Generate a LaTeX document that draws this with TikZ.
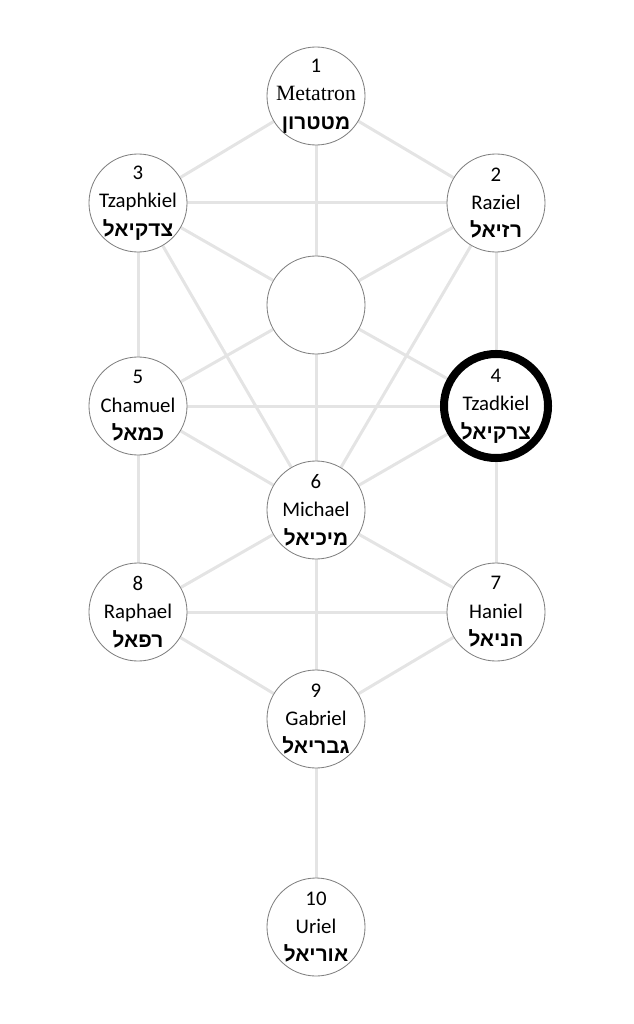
\documentclass[tikz,border=0pt]{standalone}
\usepackage{fontspec}
\setmainfont{Carlito}
\newfontfamily\metafont{Liberation Serif}
\newfontfamily\hebfont[Script=Hebrew]{Liberation Sans}
\TeXXeTstate=1
\usetikzlibrary{backgrounds}
\definecolor{pathgray}{HTML}{E4E4E4}
\definecolor{ringgray}{HTML}{808080}
\newcommand{\heb}[1]{{\hebfont\bfseries\beginR #1\endR}}

\begin{document}
\begin{tikzpicture}[x=0.025cm, y=-0.025cm,
				angel/.style={draw=ringgray, line width=0.6pt, circle, fill=white, inner sep=-0.4cm, minimum size=2.45cm,
				font=\fontsize{14.8}{20.2}\selectfont},
				chosen/.style={angel, draw=black, line width=0.2cm, minimum size=2.6cm},
				every text node part/.style={align=center},
				pathway/.style={draw=pathgray, line width=0.075cm}]
				\useasboundingbox (0,0) rectangle (633,1024);
				
				\node[angel](n1) at (316, 96) {1\\{\metafont\fontsize{15.5}{20.2}\selectfont Metatron}\\\heb{מטטרון}};
				\node[angel](n3) at (138, 203) {3\\Tzaphkiel\\\heb{צדקיאל}};
				\node[angel](n2) at (496, 203) {2\\Raziel\\\heb{רזיאל}};
				
				\node[angel](daat) at (316, 305) {};
				
				\node[angel](n5) at (138, 406) {5\\Chamuel\\\heb{כמאל}};
				\node[chosen](n4) at (496, 406) {4\\Tzadkiel\\\heb{צרקיאל}};
				
				\node[angel](n6) at (316, 510) {6\\Michael\\\heb{מיכיאל}};
				
				\node[angel](n8) at (138, 612) {8\\Raphael\\\heb{רפאל}};
				\node[angel](n7) at (496, 612) {7\\Haniel\\\heb{הניאל}};
				
				\node[angel](n9) at (316, 719) {9\\Gabriel\\\heb{גבריאל}};
				
				\node[angel](n10) at (316, 927) {10\\Uriel\\\heb{אוריאל}};
				
				\begin{scope}[on background layer]
				\draw [pathway] (n1) -- (n3);
				\draw [pathway] (n1) -- (n2);
				\draw [pathway] (n1) -- (daat);
				\draw [pathway] (n3) -- (n2);
				\draw [pathway] (n3) -- (daat);
				\draw [pathway] (n2) -- (daat);
				\draw [pathway] (n3) -- (n5);
				\draw [pathway] (n3) -- (n6);
				\draw [pathway] (n2) -- (n4);
				\draw [pathway] (n2) -- (n6);
				\draw [pathway] (daat) -- (n5);
				\draw [pathway] (daat) -- (n4);
				\draw [pathway] (daat) -- (n6);
				\draw [pathway] (n5) -- (n4);
				\draw [pathway] (n5) -- (n6);
				\draw [pathway] (n4) -- (n6);
				\draw [pathway] (n5) -- (n8);
				\draw [pathway] (n4) -- (n7);
				\draw [pathway] (n6) -- (n8);
				\draw [pathway] (n6) -- (n7);
				\draw [pathway] (n6) -- (n9);
				\draw [pathway] (n8) -- (n7);
				\draw [pathway] (n8) -- (n9);
				\draw [pathway] (n7) -- (n9);
				\draw [pathway] (n9) -- (n10);
				\end{scope}
			\end{tikzpicture}
\end{document}
